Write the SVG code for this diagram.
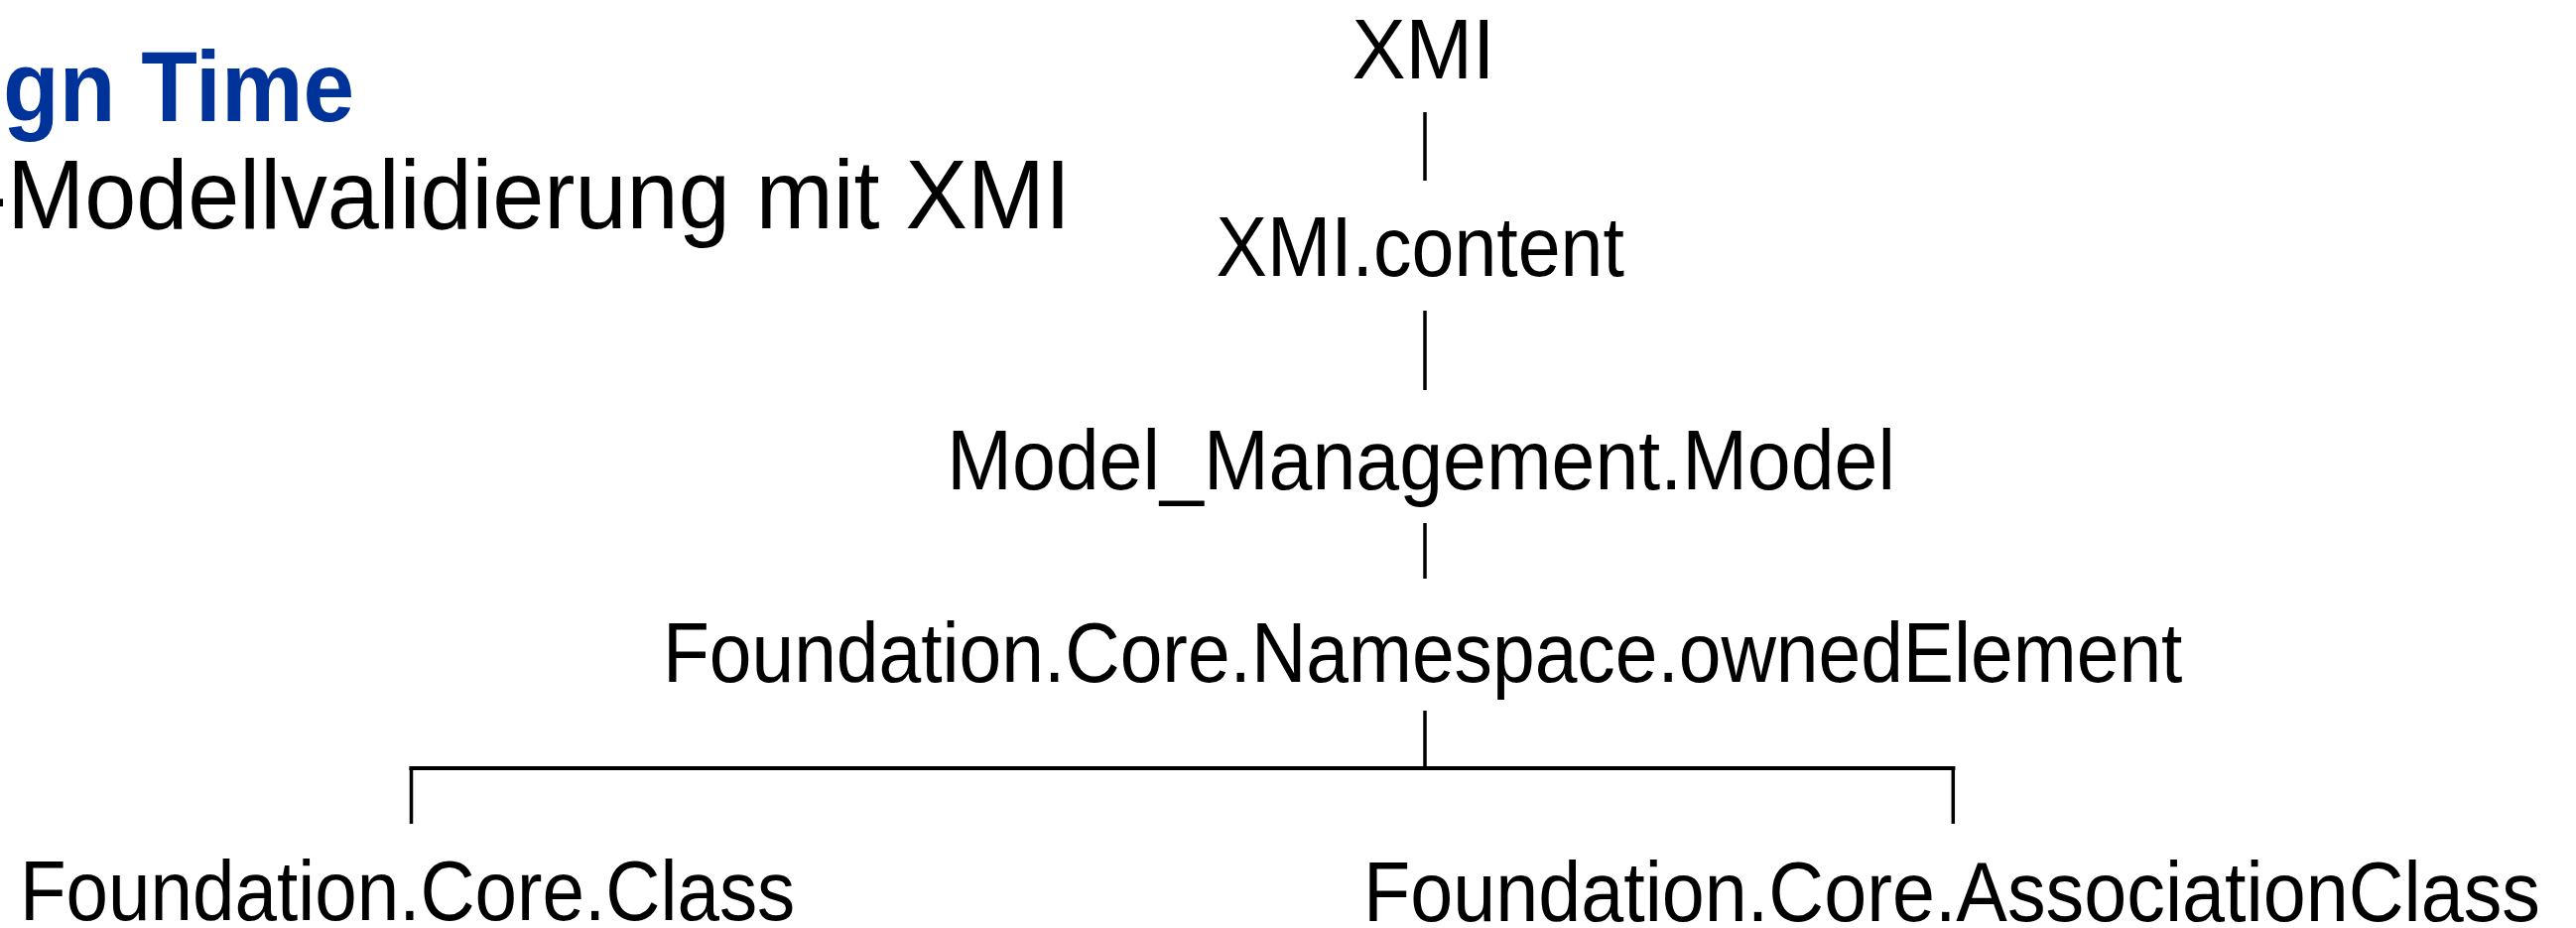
<svg xmlns="http://www.w3.org/2000/svg" width="2596" height="935" viewBox="0 0 2596 935">
  <style>
    .title { font-family: "Liberation Sans", Arial, sans-serif; font-weight: bold; font-size: 100px; fill: #003399; }
    .subtitle { font-family: "Liberation Sans", Arial, sans-serif; font-size: 99px; fill: #000000; }
    .label { font-family: "Liberation Sans", Arial, sans-serif; font-size: 85px; fill: #000000; }
    .edge { stroke: #000000; stroke-width: 3.5; fill: none; stroke-linecap: butt; }
    .bar { stroke: #000000; stroke-width: 4.2; fill: none; stroke-linecap: square; }
  </style>
  <rect width="2596" height="935" fill="#ffffff"/>

  <!-- slide heading -->
  <g id="heading">
    <text class="title" x="3" y="122" textLength="354" lengthAdjust="spacingAndGlyphs">gn Time</text>
    <text class="subtitle" x="-24" y="230" textLength="1103" lengthAdjust="spacingAndGlyphs">-Modellvalidierung mit XMI</text>
  </g>

  <!-- tree connectors -->
  <g id="connectors">
    <line class="edge" x1="1436" y1="113" x2="1436" y2="182"/>
    <line class="edge" x1="1436" y1="313" x2="1436" y2="393"/>
    <line class="edge" x1="1436" y1="527" x2="1436" y2="583"/>
    <line class="edge" x1="1436" y1="716" x2="1436" y2="774"/>
    <line class="bar" x1="414.5" y1="774" x2="1968.3" y2="774"/>
    <line class="edge" x1="414.5" y1="774" x2="414.5" y2="830"/>
    <line class="edge" x1="1968.3" y1="774" x2="1968.3" y2="830"/>
  </g>

  <!-- tree nodes -->
  <g id="node-xmi">
    <text class="label" x="1362.5" y="79" textLength="144" lengthAdjust="spacingAndGlyphs">XMI</text>
  </g>
  <g id="node-xmi-content">
    <text class="label" x="1225.5" y="278" textLength="411.4" lengthAdjust="spacingAndGlyphs">XMI.content</text>
  </g>
  <g id="node-model">
    <text class="label" x="954.2" y="493" textLength="955.8" lengthAdjust="spacingAndGlyphs">Model_Management.Model</text>
  </g>
  <g id="node-owned-element">
    <text class="label" x="667.9" y="687" textLength="1531.5" lengthAdjust="spacingAndGlyphs">Foundation.Core.Namespace.ownedElement</text>
  </g>
  <g id="node-class">
    <text class="label" x="19.9" y="927" textLength="781.4" lengthAdjust="spacingAndGlyphs">Foundation.Core.Class</text>
  </g>
  <g id="node-association-class">
    <text class="label" x="1374" y="928" textLength="1186" lengthAdjust="spacingAndGlyphs">Foundation.Core.AssociationClass</text>
  </g>
</svg>
